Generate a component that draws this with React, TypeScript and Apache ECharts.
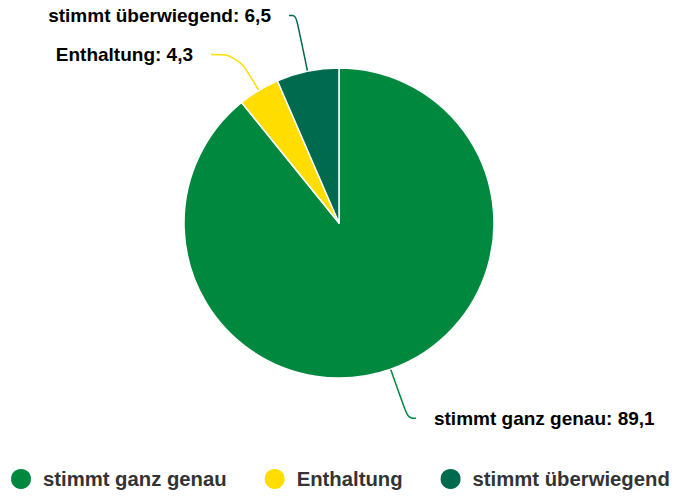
import React, { useEffect, useRef } from "react";
import * as echarts from "echarts";

const categories = ["stimmt ganz genau", "Enthaltung", "stimmt überwiegend"];
const values = [89.1, 4.3, 6.5];
const colors = ["#00883F", "#FFDD00", "#006A4E"];
const lineLengths = [52, 42, 57];
const lineLengths2 = [8, 26, 7];

export default function App() {
  const ref = useRef<HTMLDivElement>(null);
  useEffect(() => {
    document.body.style.margin = "0";
    const chart = echarts.init(ref.current!, null, { renderer: "svg" });
    chart.setOption({
      animation: false,
      color: colors,
      legend: {
        bottom: 5,
        left: 9,
        width: 700,
        padding: 0,
        icon: "circle",
        itemWidth: 22,
        itemHeight: 22,
        itemGap: 36,
        textStyle: {
          fontFamily: "Liberation Sans, Arial, sans-serif",
          fontWeight: "bold",
          fontSize: 20.3,
          color: "#333333",
          padding: [0, 0, 0, 6],
        },
        data: categories,
      },
      series: [
        {
          type: "pie",
          center: [339, 223],
          radius: 155,
          startAngle: 90,
          clockwise: true,
          avoidLabelOverlap: false,
          itemStyle: { borderColor: "#ffffff", borderWidth: 1.5 },
          label: {
            show: true,
            position: "outside",
            fontFamily: "Liberation Sans, Arial, sans-serif",
            fontWeight: "bold",
            fontSize: 19,
            color: "#000000",
            distanceToLabelLine: 18,
            formatter: (p: any) => `${p.name}: ${String(p.value).replace(".", ",")}`,
          },
          labelLine: {
            show: true,
            smooth: 0.4,
            lineStyle: { width: 1.5 },
          },
          data: categories.map((c, i) => ({
            name: c,
            value: values[i],
            labelLine: { length: lineLengths[i], length2: lineLengths2[i] },
          })),
        },
      ],
    });
    return () => chart.dispose();
  }, []);
  return <div ref={ref} style={{ width: 676, height: 496 }} />;
}
